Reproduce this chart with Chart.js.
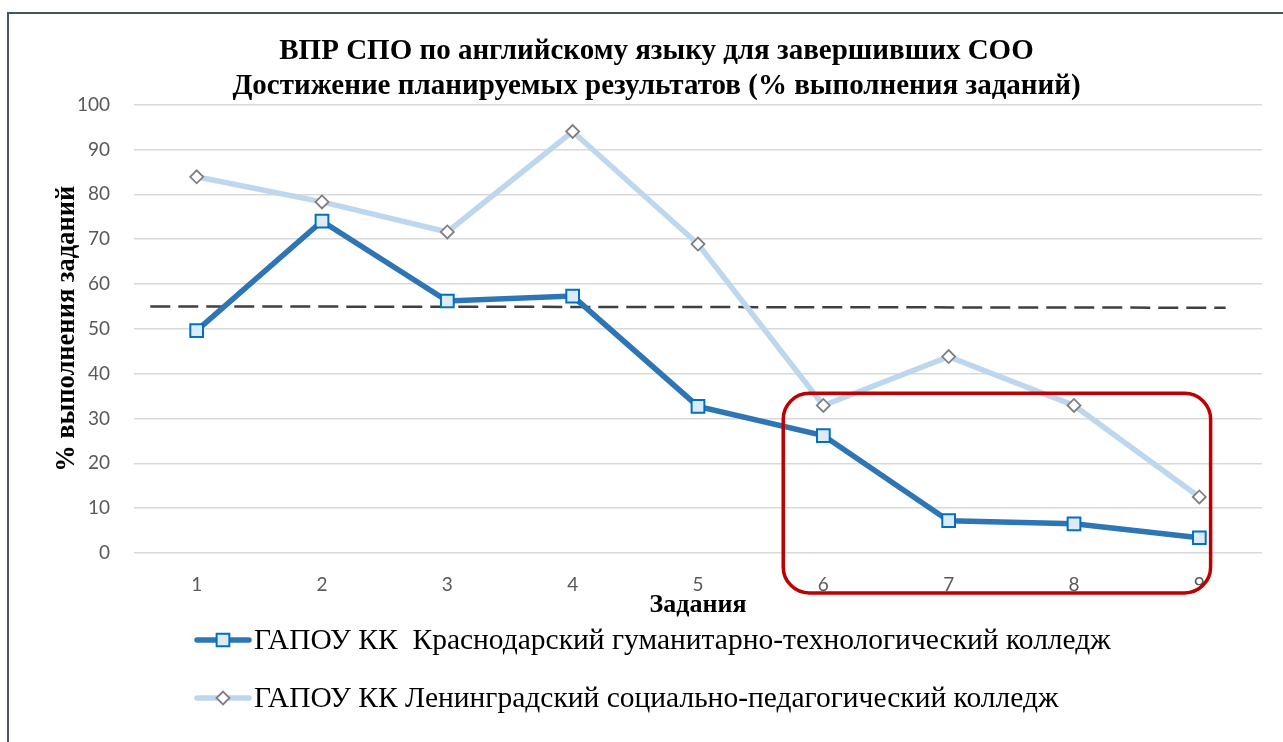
<!DOCTYPE html>
<html>
<head>
<meta charset="utf-8">
<script src="https://cdn.jsdelivr.net/npm/chart.js@4.4.0/dist/chart.umd.min.js"></script>
<style>
  html, body { margin: 0; padding: 0; background: #fff; }
  #wrap { position: relative; width: 1283px; height: 742px; overflow: hidden; }
  #frame { position: absolute; left: 7px; top: 12px; width: 1400px; height: 900px; border: 2px solid #44546A; box-sizing: border-box; }
  #chart { position: absolute; left: 0; top: 0; }
</style>
</head>
<body>
<div id="wrap">
  <div id="frame"></div>
  <canvas id="chart" width="1283" height="742"></canvas>
</div>
<script>
const TASKS = [1, 2, 3, 4, 5, 6, 7, 8, 9];
const KRASNODAR = [49.6, 74.0, 56.2, 57.3, 32.7, 26.2, 7.2, 6.5, 3.4];
const LENINGRAD = [83.9, 78.3, 71.6, 94.0, 68.9, 32.9, 43.8, 32.9, 12.5];
const LABEL_KRASNODAR = "ГАПОУ КК  Краснодарский гуманитарно-технологический колледж";
const LABEL_LENINGRAD = "ГАПОУ КК Ленинградский социально-педагогический колледж";
// dashed reference line (drawn shape in the original), x in task units
const REF_X = [0.63, 9.21];
const REF_Y = [55.0, 54.7];
// red highlight box around tasks 6-9, in axis units
const BOX = { x1: 5.68, x2: 9.09, y1: 35.6, y2: -8.9 };

const TITLE = ["ВПР СПО по английскому языку для завершивших СОО",
               "Достижение планируемых результатов (% выполнения заданий)"];

function pts(vals) {
    return vals.map((v, i) => ({ x: TASKS[i], y: v }));
}

const highlightBox = {
    id: "highlightBox",
    afterDatasetsDraw(chart) {
        const { ctx, scales: { x, y } } = chart;
        const l = x.getPixelForValue(BOX.x1), r = x.getPixelForValue(BOX.x2);
        const t = y.getPixelForValue(BOX.y1), b = y.getPixelForValue(BOX.y2);
        ctx.save();
        ctx.strokeStyle = "#C00000";
        ctx.lineWidth = 3.5;
        ctx.beginPath();
        ctx.roundRect(l, t, r - l, b - t, 26);
        ctx.stroke();
        ctx.restore();
    }
};

const sideLegend = {
    id: "sideLegend",
    afterDraw(chart) {
        const ctx = chart.ctx;
        const rows = [640, 698];
        [0, 1].forEach(i => {
            const ds = chart.data.datasets[i];
            const y = rows[i];
            ctx.save();
            ctx.strokeStyle = ds.borderColor;
            ctx.lineWidth = ds.borderWidth;
            ctx.lineCap = "round";
            ctx.beginPath();
            ctx.moveTo(197, y);
            ctx.lineTo(249, y);
            ctx.stroke();
            ctx.fillStyle = ds.pointBackgroundColor;
            ctx.strokeStyle = ds.pointBorderColor;
            ctx.lineWidth = ds.pointBorderWidth;
            Chart.helpers.drawPoint(ctx, {
                pointStyle: ds.pointStyle, radius: ds.pointRadius,
                borderWidth: ds.pointBorderWidth, rotation: 0
            }, 223, y);
            ctx.fillStyle = "#000";
            ctx.font = "29.5px 'Liberation Serif'";
            ctx.textBaseline = "middle";
            ctx.fillText(ds.label, 254, y + 1);
            ctx.restore();
        });
    }
};

new Chart(document.getElementById("chart"), {
    type: "line",
    data: {
        datasets: [
            {
                label: LABEL_KRASNODAR,
                data: pts(KRASNODAR),
                borderColor: "#2E75B6",
                borderWidth: 5.5,
                pointStyle: "rect",
                pointRadius: 9,
                pointBackgroundColor: "#DEEBF7",
                pointBorderColor: "#0070C0",
                pointBorderWidth: 2,
                order: 1
            },
            {
                label: LABEL_LENINGRAD,
                data: pts(LENINGRAD),
                borderColor: "#BDD7EE",
                borderWidth: 5.5,
                pointStyle: "rectRot",
                pointRadius: 6.5,
                pointBackgroundColor: "#FFFFFF",
                pointBorderColor: "#7F7F7F",
                pointBorderWidth: 1.8,
                order: 2
            },
            {
                label: "ref",
                data: REF_X.map((x, i) => ({ x: x, y: REF_Y[i] })),
                borderColor: "#404040",
                borderWidth: 2.5,
                borderDash: [20, 8],
                pointRadius: 0,
                order: 3
            }
        ]
    },
    options: {
        responsive: false,
        animation: false,
        layout: { padding: { left: 51, right: 21, top: 10, bottom: 121 } },
        plugins: {
            legend: { display: false },
            tooltip: { enabled: false },
            title: {
                display: true,
                text: TITLE,
                color: "#000",
                font: { family: "'Liberation Serif'", size: 29, weight: "bold", lineHeight: 1.2 },
                padding: { top: 24, bottom: 1 }
            }
        },
        scales: {
            x: {
                type: "linear",
                min: 0.5,
                max: 9.5,
                afterBuildTicks(axis) { axis.ticks = TASKS.map(v => ({ value: v })); },
                grid: { display: false },
                border: { display: false },
                ticks: { color: "#595959", font: { family: "Lato", size: 19 }, padding: 12 },
                title: {
                    display: true, text: "Задания", color: "#000",
                    font: { family: "'Liberation Serif'", size: 26, weight: "bold" },
                    padding: { top: -18, bottom: 0 }
                }
            },
            y: {
                min: 0,
                max: 100,
                afterFit(scale) { scale.width = 83; },
                ticks: { stepSize: 10, color: "#595959", font: { family: "Lato", size: 19 }, padding: 24 },
                grid: { color: "#D9D9D9", lineWidth: 1.5, drawTicks: false },
                border: { display: false },
                title: {
                    display: true, text: "% выполнения заданий", color: "#000",
                    font: { family: "'Liberation Serif'", size: 26.5, weight: "bold" },
                    padding: { top: 0, bottom: -6 }
                }
            }
        }
    },
    plugins: [highlightBox, sideLegend]
});
</script>
</body>
</html>
